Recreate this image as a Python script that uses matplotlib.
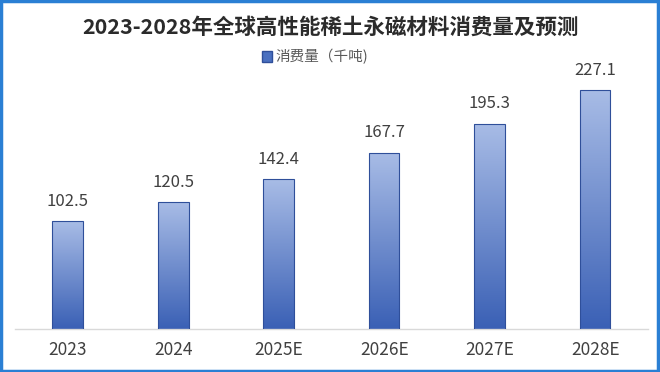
import matplotlib
matplotlib.use('Agg')
import matplotlib.pyplot as plt
import numpy as np
from matplotlib.colors import LinearSegmentedColormap
from matplotlib.patches import Rectangle

plt.rcParams['font.family'] = ['Noto Sans CJK SC', 'DejaVu Sans']

years = ['2023', '2024', '2025E', '2026E', '2027E', '2028E']
consumption = [102.5, 120.5, 142.4, 167.7, 195.3, 227.1]
legend_label = '消费量（千吨)'
title = '2023-2028年全球高性能稀土永磁材料消费量及预测'

fig = plt.figure(figsize=(6.6, 3.72), dpi=100)
ax = fig.add_axes([0.0227, 0.1156, 0.959, 0.707])

# vertical gradient: light at top, dark at bottom
cmap = LinearSegmentedColormap.from_list('bar', ['#3a60b5', '#a8bce6'])
grad = np.linspace(0, 1, 256).reshape(-1, 1)

x = np.arange(len(years))
width = 0.29
bars = ax.bar(x, consumption, width, facecolor='none', edgecolor='#2f4f9a',
              linewidth=0.8, zorder=3)
for rect, val in zip(bars, consumption):
    x0 = rect.get_x()
    im = ax.imshow(grad, cmap=cmap, aspect='auto', origin='lower',
                   extent=[x0, x0 + rect.get_width(), 0, val], zorder=2)
    im.set_clip_path(rect)
    ax.annotate(f'{val:.1f}', xy=(rect.get_x() + rect.get_width() / 2, val),
                xytext=(0, 8), textcoords='offset points',
                ha='center', va='bottom', fontsize=12, color='#404040')

ax.set_xlim(-0.5, len(years) - 0.5)
ax.set_ylim(0, 250)
ax.set_xticks(x)
ax.set_xticklabels(years, fontsize=12.5, color='#404040')
ax.tick_params(axis='x', length=0, pad=9)
ax.set_yticks([])
for s in ['top', 'right', 'left']:
    ax.spines[s].set_visible(False)
ax.spines['bottom'].set_color('#d9d9d9')
ax.spines['bottom'].set_linewidth(1)

handle = Rectangle((0, 0), 1, 1, facecolor='#4a70c0', edgecolor='#2f4f9a')
fig.legend([handle], [legend_label], loc='center', bbox_to_anchor=(0.477, 0.847),
           frameon=False, fontsize=10.5, handlelength=0.7, handleheight=0.7,
           handletextpad=0.2, labelcolor='#595959')

fig.text(0.5, 0.927, title, ha='center', va='center', fontsize=15.5,
         fontweight='bold', color='#2b2b2b')

# blue frame around the picture
fig.patches.append(Rectangle((0.002, 0.003), 0.995, 0.994, transform=fig.transFigure,
                             fill=False, edgecolor='#2a7fd4', linewidth=2.5))

fig.savefig('out.png', dpi=100)
print("Saved out.png")
